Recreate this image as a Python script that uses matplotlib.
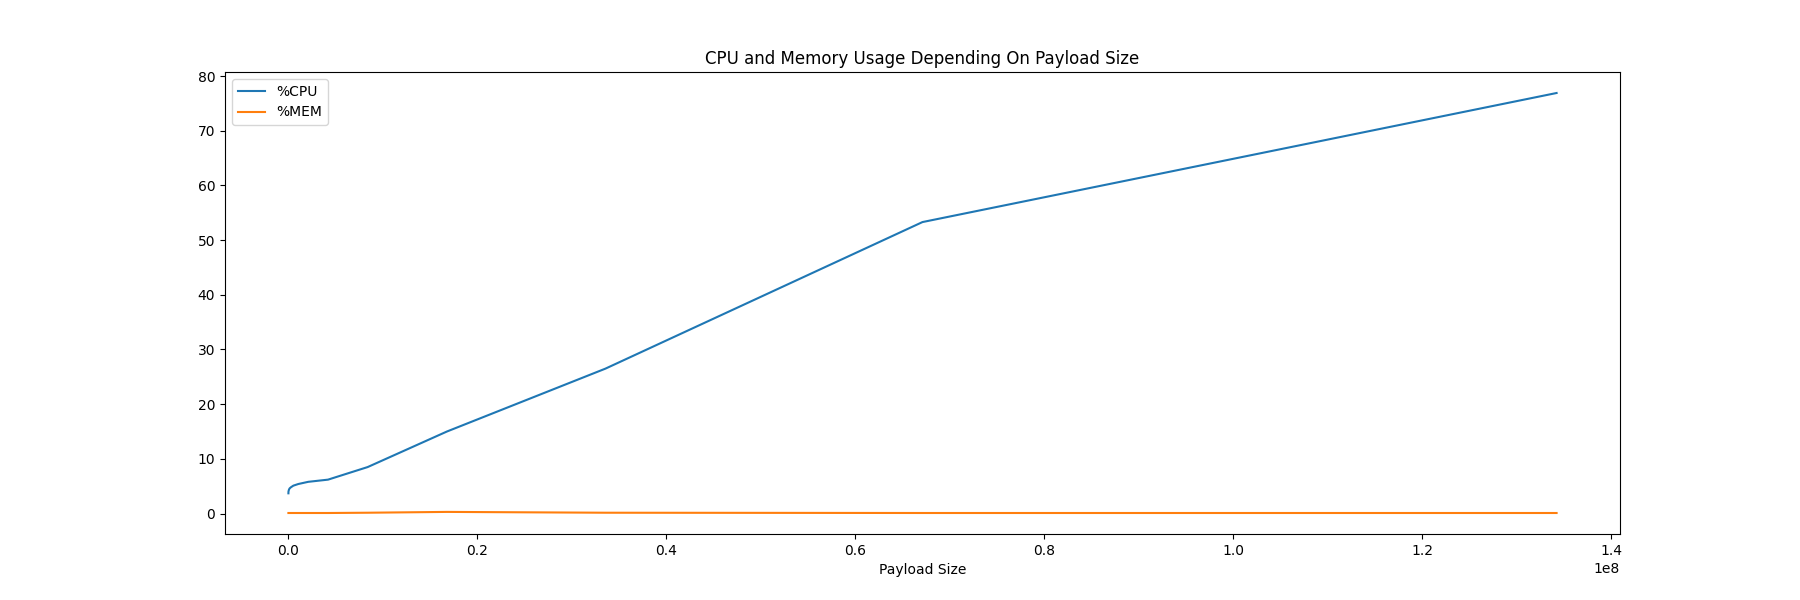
import matplotlib
matplotlib.use("Agg")
import matplotlib.pyplot as plt

payload_sizes = [2**k for k in range(10, 28)]
cpu = [3.7, 3.8, 3.9, 4.0, 4.1, 4.2, 4.4, 4.6, 4.8, 5.1, 5.4, 5.8, 6.2, 8.5, 15.0, 26.5, 53.3, 76.9]
mem = [0.1, 0.1, 0.1, 0.1, 0.1, 0.1, 0.1, 0.1, 0.1, 0.1, 0.1, 0.1, 0.1, 0.15, 0.3, 0.15, 0.1, 0.1]

fig, ax = plt.subplots(figsize=(18, 6), dpi=100)
ax.plot(payload_sizes, cpu, label="%CPU")
ax.plot(payload_sizes, mem, label="%MEM")
ax.set_title("CPU and Memory Usage Depending On Payload Size")
ax.set_xlabel("Payload Size")
ax.legend(loc="upper left")
fig.savefig("out.png")
